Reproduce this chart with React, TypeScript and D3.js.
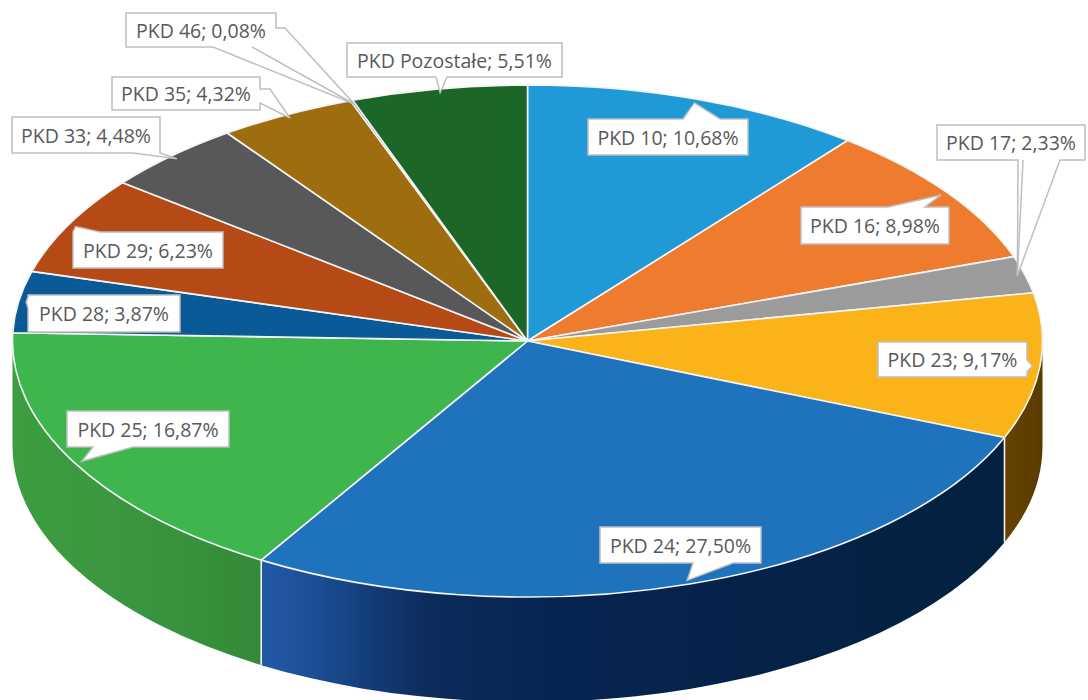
import React from 'react';
import * as d3 from 'd3';

const categories = ['PKD 10', 'PKD 16', 'PKD 17', 'PKD 23', 'PKD 24', 'PKD 25', 'PKD 28', 'PKD 29', 'PKD 33', 'PKD 35', 'PKD 46', 'PKD Pozostałe'];
const shares = [10.68, 8.98, 2.33, 9.17, 27.5, 16.87, 3.87, 6.23, 4.48, 4.32, 0.08, 5.51];
const topColors = ['#1f9ad6', '#ef7b2e', '#9b9b9b', '#fbb31a', '#1f72bc', '#3fb54e', '#0b5a98', '#b54a17', '#58585a', '#9d6d10', '#2b5f8f', '#1c6628'];
const sideStops: string[][] = [
  ['#15729f', '#15729f'],
  ['#a9561f', '#a9561f'],
  ['#6d6d6d', '#6d6d6d'],
  ['#664300', '#5a3b00'],
  ['#2359a6', '#1a4c92', '#0c2c5c', '#062450', '#03213f'],
  ['#3c9e3f', '#3a9540', '#338a38'],
  ['#084070', '#084070'],
  ['#803411', '#803411'],
  ['#3e3e40', '#3e3e40'],
  ['#6e4d0b', '#6e4d0b'],
  ['#1f4468', '#1f4468'],
  ['#134a1c', '#134a1c'],
];

// annotation placement for callouts (box + pointer base)
type Layout = { x: number; y: number; w: number; h: number; edge: string; p1: number; p2: number; bend?: number[]; extra?: number[][] };
const labelLayout: Layout[] = [
  { x: 588, y: 119, w: 160, h: 36, edge: 'top', p1: 683, p2: 720 },
  { x: 801, y: 207, w: 148, h: 37, edge: 'top', p1: 888, p2: 925 },
  { x: 937, y: 125, w: 148, h: 35, edge: 'bottom', p1: 1018, p2: 1060, extra: [[1023, 160]] },
  { x: 878, y: 342, w: 149, h: 35, edge: 'right', p1: 360, p2: 372 },
  { x: 600, y: 527, w: 161, h: 36, edge: 'bottom', p1: 693, p2: 733 },
  { x: 67, y: 411, w: 162, h: 36, edge: 'bottom', p1: 93, p2: 133 },
  { x: 28, y: 295, w: 152, h: 37, edge: 'left', p1: 297, p2: 308 },
  { x: 73, y: 232, w: 150, h: 36, edge: 'top', p1: 73, p2: 100 },
  { x: 12, y: 117, w: 148, h: 36, edge: 'bottom', p1: 133, p2: 160 },
  { x: 112, y: 77, w: 148, h: 33, edge: 'right', p1: 89, p2: 103, bend: [270, 89] },
  { x: 126, y: 13, w: 150, h: 34, edge: 'br', p1: 28, p2: 213, bend: [285, 28], extra: [[252, 47]] },
  { x: 347, y: 43, w: 215, h: 34, edge: 'bottom', p1: 436, p2: 447 },
];

const W = 1088;
const H = 700;
const cx = 527.5;
const cy = 341;
const rx = 515;
const ry = 256;
const depth = 105;
const tipR = 0.985;

const pt = (a: number, r = 1): [number, number] => [cx + rx * r * Math.sin(a), cy - ry * r * Math.cos(a)];
const fmt = (v: number) => v.toFixed(2).replace('.', ',') + '%';

function calloutPath(l: Layout, tip: [number, number]) {
  const L = l.x, T = l.y, R = l.x + l.w, B = l.y + l.h;
  const bend = l.bend ? [l.bend] : [];
  let pts: number[][] = [];
  if (l.edge === 'top') pts = [[L, T], [l.p1, T], ...bend, tip, [l.p2, T], [R, T], [R, B], [L, B]];
  else if (l.edge === 'right') pts = [[L, T], [R, T], [R, l.p1], ...bend, tip, [R, l.p2], [R, B], [L, B]];
  else if (l.edge === 'bottom') pts = [[L, T], [R, T], [R, B], [l.p2, B], ...bend, tip, [l.p1, B], [L, B]];
  else if (l.edge === 'left') pts = [[L, T], [R, T], [R, B], [L, B], [L, l.p2], ...bend, tip, [L, l.p1]];
  else if (l.edge === 'br') pts = [[L, T], [R, T], [R, l.p1], ...bend, tip, [l.p2, B], [L, B]];
  return 'M' + pts.map((p) => `${p[0]},${p[1]}`).join('L') + 'Z';
}

export default function App() {
  const arcs = d3.pie<number>().sort(null).startAngle(0).endAngle(2 * Math.PI)(shares);

  const sides = arcs
    .map((a, i) => {
      const s = Math.max(a.startAngle, Math.PI / 2);
      const e = Math.min(a.endAngle, (3 * Math.PI) / 2);
      if (s >= e) return null;
      const [x1, y1] = pt(s);
      const [x2, y2] = pt(e);
      const d = `M${x1},${y1}A${rx},${ry} 0 0 1 ${x2},${y2}L${x2},${y2 + depth}A${rx},${ry} 0 0 0 ${x1},${y1 + depth}Z`;
      return { i, d, x1, x2 };
    })
    .filter(Boolean) as { i: number; d: string; x1: number; x2: number }[];

  const seps = arcs
    .map((a) => a.startAngle)
    .filter((ang) => ang > Math.PI / 2 && ang < (3 * Math.PI) / 2)
    .map((ang) => pt(ang));

  return (
    <svg width={W} height={H} style={{ position: 'absolute', left: 0, top: 0, background: '#fff' }} fontFamily="'Open Sans', sans-serif">
      <defs>
        {sides.map((s) => {
          const stops = sideStops[s.i];
          const lo = Math.min(s.x1, s.x2);
          const hi = Math.max(s.x1, s.x2);
          const offs = stops.length === 5 ? [0, 0.08, 0.22, 0.4, 1] : stops.map((_, j) => j / Math.max(1, stops.length - 1));
          return (
            <linearGradient key={s.i} id={`side${s.i}`} gradientUnits="userSpaceOnUse" x1={lo} x2={hi} y1={0} y2={0}>
              {stops.map((c, k) => (
                <stop key={k} offset={offs[k]} stopColor={c} />
              ))}
            </linearGradient>
          );
        })}
      </defs>
      <rect x={0} y={0} width={W} height={H} fill="#ffffff" />
      <g>
        {sides.map((s) => (
          <path key={s.i} d={s.d} fill={`url(#side${s.i})`} />
        ))}
        {seps.map(([x, y], k) => (
          <line key={k} x1={x} x2={x} y1={y} y2={y + depth} stroke="#f2f2f2" strokeWidth={1.6} />
        ))}
      </g>
      <g>
        {arcs.map((a, i) => {
          const [x1, y1] = pt(a.startAngle);
          const [x2, y2] = pt(a.endAngle);
          const large = a.endAngle - a.startAngle > Math.PI ? 1 : 0;
          return (
            <path
              key={i}
              d={`M${cx},${cy}L${x1},${y1}A${rx},${ry} 0 ${large} 1 ${x2},${y2}Z`}
              fill={topColors[i]}
              stroke="#f4f4f4"
              strokeWidth={1.6}
              strokeLinejoin="round"
            />
          );
        })}
      </g>
      <g>
        {arcs.map((a, i) => {
          const l = labelLayout[i];
          const tip = pt((a.startAngle + a.endAngle) / 2, tipR);
          return (
            <g key={i}>
              <path d={calloutPath(l, tip)} fill="#ffffff" stroke="#bfbfbf" strokeWidth={1.5} strokeLinejoin="miter" />
              {(l.extra || []).map((p, k) => (
                <line key={k} x1={p[0]} y1={p[1]} x2={tip[0]} y2={tip[1]} stroke="#bfbfbf" strokeWidth={1.5} />
              ))}
              <text x={l.x + l.w / 2} y={l.y + l.h / 2} textAnchor="middle" dominantBaseline="central" fontSize={19.5} fill="#595959">
                {`${categories[i]}; ${fmt(shares[i])}`}
              </text>
            </g>
          );
        })}
      </g>
    </svg>
  );
}
